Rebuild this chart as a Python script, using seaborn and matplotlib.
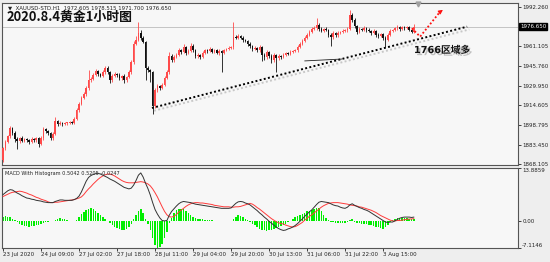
import numpy as np
import pandas as pd
import matplotlib
matplotlib.use("Agg")
import matplotlib.pyplot as plt
import seaborn as sns
from matplotlib import patheffects as pe

# ---------------- data ----------------
first_open = 1871.2
closes = [
    1880.7, 1885.5, 1890.2, 1896.5, 1892.6, 1887.8, 1886.3, 1888.6, 1886.3, 1887.8,
    1887.0, 1885.5, 1887.8, 1887.0, 1888.6, 1883.9, 1888.6, 1895.7, 1894.1, 1892.6,
    1888.6, 1891.8, 1902.1, 1899.7, 1900.5, 1899.7, 1900.5, 1900.5, 1901.3, 1900.5,
    1903.7, 1910.8, 1915.5, 1920.3, 1923.4, 1928.2, 1934.5, 1935.3, 1938.5, 1941.6,
    1939.3, 1937.7, 1940.8, 1944.0, 1940.8, 1934.5, 1937.7, 1939.3, 1938.5, 1936.1,
    1937.7, 1934.5, 1936.9, 1940.8, 1948.8, 1963.0, 1966.2, 1971.7, 1967.8, 1964.6,
    1944.0, 1942.4, 1940.8, 1914.0, 1926.6, 1929.8, 1928.2, 1930.6, 1936.1, 1940.8,
    1953.5, 1950.3, 1952.7, 1954.3, 1958.2, 1956.7, 1960.6, 1955.9, 1957.5, 1961.4,
    1958.2, 1953.5, 1954.3, 1952.7, 1955.9, 1958.2, 1957.5, 1959.1, 1956.7, 1958.2,
    1955.9, 1957.5, 1955.9, 1958.2, 1959.1, 1959.9, 1960.6, 1968.5, 1967.8, 1969.3,
    1967.8, 1966.2, 1965.4, 1963.0, 1961.4, 1959.1, 1959.9, 1958.2, 1960.6, 1954.3,
    1952.7, 1956.7, 1953.5, 1950.3, 1954.3, 1951.9, 1953.5, 1952.7, 1954.3, 1955.9,
    1955.1, 1956.7, 1957.5, 1958.2, 1960.6, 1963.0, 1965.4, 1967.8, 1970.1, 1972.5,
    1974.9, 1975.6, 1978.0, 1974.9, 1973.3, 1974.9, 1974.1, 1970.1, 1968.5, 1971.7,
    1970.1, 1971.7, 1972.5, 1973.3, 1974.1, 1974.9, 1985.9, 1982.0, 1977.2, 1972.5,
    1974.9, 1974.1, 1975.6, 1974.1, 1973.3, 1971.7, 1973.3, 1970.1, 1969.3, 1970.9,
    1967.8, 1966.2, 1970.1, 1973.3, 1974.1, 1975.6, 1976.4, 1974.9, 1976.4, 1975.6,
    1976.4, 1974.1, 1972.6, 1976.65]
upper_wick = [
    1.0, 1.5, 1.2, 2.0, 1.0, 1.2, 1.5, 1.0, 1.3, 1.0,
    1.2, 1.0, 1.4, 1.0, 1.2, 1.0, 1.5, 1.6, 1.2, 1.0,
    1.0, 1.2, 3.1, 1.0, 1.2, 0.8, 1.0, 0.8, 1.0, 0.8,
    1.2, 1.5, 1.6, 1.2, 2.0, 1.5, 8.0, 1.5, 1.2, 1.8,
    1.2, 1.0, 1.5, 1.6, 1.2, 1.0, 1.5, 1.2, 1.0, 1.2,
    1.0, 1.2, 1.0, 1.5, 1.5, 2.0, 3.0, 8.7, 2.0, 1.5,
    1.0, 1.5, 1.2, 1.0, 1.5, 1.2, 1.0, 1.5, 1.2, 1.5,
    3.0, 1.5, 1.2, 1.5, 1.5, 1.2, 2.4, 1.0, 1.2, 2.4,
    1.2, 1.0, 1.2, 1.0, 1.5, 1.2, 1.0, 1.5, 1.0, 1.2,
    1.0, 1.2, 1.0, 1.2, 1.0, 1.2, 1.0, 12.0, 1.5, 1.2,
    1.0, 1.2, 1.0, 1.0, 1.2, 1.0, 1.2, 1.0, 1.5, 1.0,
    1.2, 1.5, 1.0, 1.2, 1.5, 1.0, 1.2, 1.0, 1.2, 1.0,
    1.0, 1.2, 1.0, 1.2, 1.5, 1.2, 1.5, 1.2, 1.5, 1.2,
    1.5, 2.0, 5.6, 1.5, 1.2, 1.0, 1.2, 1.0, 1.2, 1.5,
    1.0, 1.2, 1.0, 1.2, 1.0, 1.2, 4.0, 1.5, 1.2, 1.0,
    1.2, 1.0, 1.5, 1.0, 1.2, 1.0, 1.2, 1.0, 1.2, 1.0,
    1.0, 1.2, 1.5, 1.2, 1.0, 1.2, 1.5, 1.0, 1.2, 1.0,
    1.2, 1.0, 1.0, 1.9]
lower_wick = [
    1.6, 1.2, 1.0, 1.2, 1.5, 2.0, 6.0, 1.5, 1.2, 1.0,
    1.5, 1.2, 1.0, 1.5, 1.2, 2.0, 1.0, 1.2, 1.5, 1.2,
    1.5, 1.2, 1.0, 1.5, 1.0, 1.2, 1.0, 1.2, 1.0, 1.0,
    1.0, 1.2, 1.5, 1.0, 1.2, 1.5, 1.2, 1.5, 1.0, 1.2,
    1.5, 1.2, 1.0, 1.2, 1.5, 2.4, 1.2, 1.0, 1.5, 1.2,
    1.5, 2.0, 1.2, 1.0, 1.2, 1.5, 1.0, 1.2, 1.5, 1.2,
    9.5, 1.5, 7.8, 6.4, 1.5, 1.2, 1.5, 1.0, 1.2, 1.0,
    1.2, 1.5, 1.2, 1.0, 1.2, 1.5, 1.2, 1.5, 1.2, 1.0,
    1.5, 1.2, 1.5, 1.2, 1.0, 1.2, 1.5, 1.0, 1.2, 1.0,
    1.2, 1.5, 15.0, 1.2, 1.0, 1.2, 1.0, 1.5, 1.2, 1.0,
    1.2, 1.5, 1.2, 1.5, 1.2, 1.5, 1.2, 1.5, 1.2, 5.0,
    2.0, 1.5, 1.2, 2.0, 1.2, 11.0, 1.5, 1.2, 1.0, 1.2,
    1.0, 1.2, 1.0, 1.0, 1.2, 1.0, 1.2, 1.0, 1.2, 1.0,
    1.2, 1.0, 1.2, 1.5, 1.2, 1.0, 1.2, 1.5, 7.0, 1.2,
    1.5, 1.2, 1.0, 1.2, 1.0, 1.5, 1.0, 1.5, 1.2, 1.5,
    1.2, 1.0, 1.2, 1.5, 1.2, 1.5, 1.2, 1.5, 1.2, 1.0,
    1.5, 5.6, 1.2, 1.0, 1.2, 1.0, 1.2, 1.5, 1.0, 1.2,
    1.0, 1.2, 1.0, 0.9]
macd = [
    6.9, 7.4, 7.9, 8.2, 8.1, 7.7, 7.3, 7.0, 6.6, 6.3,
    6.0, 5.9, 5.7, 5.6, 5.4, 5.3, 5.2, 5.0, 4.9, 4.8,
    4.8, 4.8, 5.1, 5.3, 5.5, 5.5, 5.4, 5.4, 5.4, 5.4,
    5.6, 5.9, 6.5, 7.6, 9.0, 10.4, 11.4, 11.9, 12.2, 12.4,
    12.5, 12.3, 12.0, 11.7, 11.4, 11.0, 10.7, 10.4, 10.0, 9.6,
    9.2, 8.8, 8.6, 8.4, 8.6, 9.4, 10.6, 12.0, 12.6, 11.5,
    9.9, 8.5, 6.8, 4.8, 3.0, 1.8, 0.8, 0.1, 0.0, 0.1,
    1.5, 2.5, 3.2, 3.9, 4.5, 4.9, 5.1, 5.0, 4.9, 4.8,
    4.6, 4.4, 4.3, 4.2, 4.1, 4.0, 3.9, 3.8, 3.7, 3.6,
    3.5, 3.4, 3.3, 3.3, 3.3, 3.3, 3.4, 4.0, 4.6, 5.0,
    5.1, 5.0, 4.7, 4.5, 4.2, 3.7, 3.2, 2.7, 2.1, 1.6,
    1.0, 0.5, -0.1, -0.6, -1.1, -1.6, -2.0, -2.3, -2.5, -2.4,
    -2.1, -1.9, -1.6, -1.2, -0.7, -0.1, 0.5, 1.2, 1.8, 2.4,
    2.9, 3.6, 4.3, 4.9, 5.1, 5.0, 4.9, 4.8, 4.5, 4.2,
    4.0, 3.9, 3.6, 3.4, 3.3, 3.6, 4.2, 4.5, 4.1, 3.8,
    3.5, 3.3, 3.0, 2.8, 2.5, 2.1, 1.7, 1.3, 0.9, 0.5,
    0.1, -0.3, -0.4, -0.3, -0.3, 0.0, 0.4, 0.7, 0.9, 1.0,
    1.0, 1.0, 0.9, 1.0]
signal = [
    6.4, 6.7, 7.0, 7.3, 7.5, 7.6, 7.7, 7.8, 7.7, 7.5,
    7.3, 7.0, 6.8, 6.5, 6.2, 6.0, 5.7, 5.5, 5.3, 5.0,
    4.8, 4.8, 4.9, 4.9, 5.0, 5.1, 5.2, 5.3, 5.4, 5.5,
    5.6, 5.8, 6.0, 6.3, 6.9, 7.7, 8.4, 9.0, 9.7, 10.3,
    10.9, 11.4, 11.8, 12.1, 12.3, 12.3, 12.1, 11.8, 11.4, 11.0,
    10.6, 10.3, 10.1, 10.0, 10.0, 10.0, 10.1, 10.2, 10.3, 10.2,
    10.0, 9.7, 9.2, 8.4, 7.4, 6.3, 5.0, 3.7, 2.5, 1.6,
    1.1, 1.0, 1.2, 1.7, 2.3, 2.8, 3.3, 3.8, 4.2, 4.5,
    4.7, 4.8, 4.8, 4.7, 4.7, 4.6, 4.5, 4.4, 4.3, 4.1,
    4.0, 3.9, 3.8, 3.7, 3.7, 3.7, 3.6, 3.6, 3.7, 3.7,
    3.8, 4.0, 4.2, 4.4, 4.6, 4.4, 4.0, 3.5, 3.1, 2.6,
    2.1, 1.6, 1.1, 0.6, 0.2, -0.2, -0.5, -0.7, -0.8, -1.1,
    -1.3, -1.5, -1.6, -1.5, -1.2, -0.8, -0.4, 0.2, 0.7, 1.2,
    1.6, 2.1, 2.6, 3.1, 3.6, 4.0, 4.3, 4.6, 4.7, 4.8,
    4.8, 4.8, 4.7, 4.6, 4.5, 4.4, 4.2, 4.1, 4.0, 3.9,
    3.7, 3.6, 3.4, 3.2, 3.0, 2.8, 2.5, 2.2, 1.8, 1.4,
    1.1, 0.8, 0.5, 0.2, 0.0, 0.0, 0.1, 0.1, 0.2, 0.3,
    0.4, 0.5, 0.5, 0.6]
hist = [
    1.0, 1.2, 1.1, 1.0, 0.6, 0.2, -0.4, -0.8, -1.1, -1.3,
    -1.4, -1.5, -1.4, -1.3, -1.1, -1.0, -0.8, -0.6, -0.4, -0.3,
    -0.1, 0.0, 0.3, 0.5, 0.7, 0.6, 0.5, 0.3, 0.1, 0.0,
    0.1, 0.3, 0.9, 1.7, 2.4, 2.9, 3.2, 3.4, 3.1, 2.6,
    2.1, 1.6, 1.0, 0.5, 0.0, -0.6, -1.1, -1.5, -1.8, -2.1,
    -2.3, -2.4, -2.1, -1.5, -0.8, 0.5, 1.6, 2.5, 3.0, 2.0,
    0.6, -0.8, -2.5, -4.6, -6.3, -7.1, -6.9, -6.0, -4.6, -2.8,
    -0.5, 0.8, 2.0, 2.8, 3.1, 3.2, 3.0, 2.6, 2.2, 1.6,
    1.1, 0.7, 0.5, 0.4, 0.4, 0.3, 0.3, 0.3, 0.2, 0.1,
    0.1, 0.0, -0.1, -0.1, -0.1, -0.1, 0.1, 0.6, 1.1, 1.5,
    1.4, 1.1, 0.6, 0.2, -0.2, -0.7, -1.2, -1.6, -2.0, -2.3,
    -2.5, -2.6, -2.5, -2.3, -2.1, -1.8, -1.5, -1.3, -1.1, -0.8,
    -0.4, 0.1, 0.5, 0.9, 1.3, 1.6, 1.9, 2.2, 2.5, 2.7,
    2.9, 3.1, 3.3, 3.4, 2.6, 1.6, 0.8, 0.2, -0.2, -0.4,
    -0.5, -0.5, -0.6, -0.6, -0.6, -0.3, 0.3, 0.4, -0.2, -0.5,
    -0.6, -0.7, -0.8, -0.9, -1.0, -1.2, -1.3, -1.5, -1.7, -1.9,
    -2.0, -1.6, -1.0, -0.4, 0.2, 0.5, 0.7, 0.7, 0.8, 0.8,
    0.7, 0.6, 0.5, 0.4]

time_labels = ["23 Jul 2020", "24 Jul 09:00", "27 Jul 02:00", "27 Jul 18:00",
               "28 Jul 11:00", "29 Jul 04:00", "29 Jul 20:00", "30 Jul 13:00",
               "31 Jul 06:00", "31 Jul 22:00", "3 Aug 15:00"]
label_bars = [0, 16, 32, 48, 64, 80, 96, 112, 128, 144, 160]
price_ticks = [1992.260, 1961.105, 1945.760, 1929.950, 1914.605, 1898.795, 1883.450, 1868.105]
bid_price = 1976.650
macd_top, macd_bottom = 13.8859, -7.1146
title = "2020.8.4黄金1小时图"
header = "XAUUSD-STD.H1  1972.605 1978.515 1971.700 1976.650"
macd_label = "MACD With Histogram 0.5042 0.5205 -0.0247"
note = "1766区域多"
note_pos = (173.0, 1958.2)
trend_start = (62.7, 1912.4)
trend_end = (195.4, 1976.7)
sig_line_x = [127.0, 142.7]
sig_line_y = [1949.6, 1951.1]
arrow_pts_x = [172.1, 175.6, 184.0]
arrow_pts_y = [1975.4, 1968.8, 1988.5]

# ---------------- style ----------------
sns.set_theme(style="white")
plt.rcParams["font.family"] = ["DejaVu Sans", "Noto Sans CJK SC"]
UP = "#ff4a4a"
DOWN = "#111111"
BG = "#f7f7f7"
TICK_FS = 4.0

fig = plt.figure(figsize=(5.5, 2.62), dpi=100, facecolor="#eeeeee")
W, H = 550.0, 262.0
ax = fig.add_axes([2 / W, 1 - 165 / H, 516 / W, 162 / H], facecolor=BG)
axm = fig.add_axes([2 / W, 1 - 248 / H, 516 / W, 80 / H], facecolor=BG)

n = len(closes)
idx = np.arange(n)
c = np.array(closes)
o = np.r_[first_open, c[:-1]]
hi = np.maximum(o, c) + np.array(upper_wick)
lo = np.minimum(o, c) - np.array(lower_wick)
colors = np.where(c >= o, UP, DOWN)

# bid line
ax.axhline(bid_price, color="#c4c4c4", lw=0.7, zorder=1)
# candles
ax.vlines(idx, lo, hi, colors=colors, lw=0.6, zorder=3)
body_h = np.maximum(np.abs(c - o), 0.5)
ax.bar(idx, body_h, bottom=np.minimum(o, c), width=0.66, color=colors,
       linewidth=0, zorder=4)

xlo, xhi = -0.42, 216.8
ax.set_xlim(xlo, xhi)
ax.set_ylim(1867.3, 1995.4)

# trend line with soft shadow
ax.plot([trend_start[0], trend_end[0]], [trend_start[1], trend_end[1]],
        ls=(0, (1, 1.2)), color="black", lw=1.4, zorder=6,
        path_effects=[pe.SimpleLineShadow(offset=(1.5, -2), shadow_color="#999999", alpha=0.5),
                      pe.Normal()])
ax.plot(sig_line_x, sig_line_y, color="#222222", lw=0.6, zorder=6)
# red dotted arrow
ax.plot(arrow_pts_x, arrow_pts_y, ls=(0, (1, 1.2)), color="#ff1010", lw=1.3, zorder=7)
ax.annotate("", xy=(arrow_pts_x[-1] + 1.2, arrow_pts_y[-1] + 1.5),
            xytext=(arrow_pts_x[-1] - 0.5, arrow_pts_y[-1] - 0.8),
            arrowprops=dict(arrowstyle="-|>", color="#ff1010", lw=0.8,
                            mutation_scale=6), zorder=8)

# note text
ax.text(note_pos[0], note_pos[1], note, fontsize=7.0, fontweight="bold",
        family=["DejaVu Sans", "Noto Sans CJK SC"], color="#111111", va="center",
        ha="left", zorder=9,
        path_effects=[pe.withSimplePatchShadow(offset=(1.5, -1.5), shadow_rgbFace="#888888", alpha=0.5)])

# right axis labels
ax.yaxis.tick_right()
ax.set_yticks(price_ticks)
ax.set_yticklabels([f"{v:.3f}" for v in price_ticks])
ax.tick_params(axis="y", right=True, length=2, width=0.6, pad=1.0,
               labelsize=TICK_FS, colors="#222222")
ax.tick_params(axis="x", bottom=False, labelbottom=False)
ax.text(1.004, bid_price, f"{bid_price:.3f}", transform=ax.get_yaxis_transform(),
        fontsize=TICK_FS, color="white", va="center", ha="left",
        bbox=dict(boxstyle="square,pad=0.15", fc="black", ec="black"))
for sp in ax.spines.values():
    sp.set_color("#555555")
    sp.set_linewidth(0.8)
ax.grid(False)

# header & title
ax.text(0.012, 0.988, "▼  " + header, transform=ax.transAxes, fontsize=3.9,
        va="top", ha="left", color="#222222")
fig.text(7 / W, 1 - 16.5 / H, title, fontsize=9.3, fontweight="bold",
         family=["Noto Sans CJK SC", "DejaVu Sans"], va="center", ha="left",
         color="#111111")
ax.plot([174.7], [1995.0], marker="v", color="#a0a0a0", ms=3.5, clip_on=False, zorder=9)

# ---------------- MACD panel ----------------
dfm = pd.DataFrame({"bar": idx, "macd": macd, "signal": signal, "hist": hist})
axm.bar(dfm["bar"], dfm["hist"], width=0.62, color="#00ee00", linewidth=0, zorder=2)
sns.lineplot(data=dfm, x="bar", y="signal", color="#ff3b3b", lw=0.7, ax=axm, zorder=3)
sns.lineplot(data=dfm, x="bar", y="macd", color="#333333", lw=0.7, ax=axm, zorder=4)
axm.set_xlim(xlo, xhi)
axm.set_ylim(macd_bottom, macd_top)
axm.set_xlabel("")
axm.set_ylabel("")
axm.yaxis.tick_right()
axm.set_yticks([macd_top, 0.0, macd_bottom])
axm.set_yticklabels([f"{macd_top:.4f}", "0.00", f"{macd_bottom:.4f}"])
axm.tick_params(axis="y", right=True, length=2, width=0.6, pad=1.0,
                labelsize=TICK_FS, colors="#222222")
labs = axm.get_yticklabels()
labs[0].set_va("top")
labs[2].set_va("bottom")
axm.set_xticks(label_bars)
axm.set_xticklabels(time_labels, ha="left")
axm.tick_params(axis="x", bottom=True, length=2, width=0.6, pad=1.0,
                labelsize=TICK_FS, colors="#222222")
for sp in axm.spines.values():
    sp.set_color("#555555")
    sp.set_linewidth(0.8)
axm.grid(False)
axm.text(0.006, 0.96, macd_label, transform=axm.transAxes, fontsize=3.6,
         va="top", ha="left", color="#222222")

fig.savefig("out.png", dpi=100, facecolor=fig.get_facecolor())
